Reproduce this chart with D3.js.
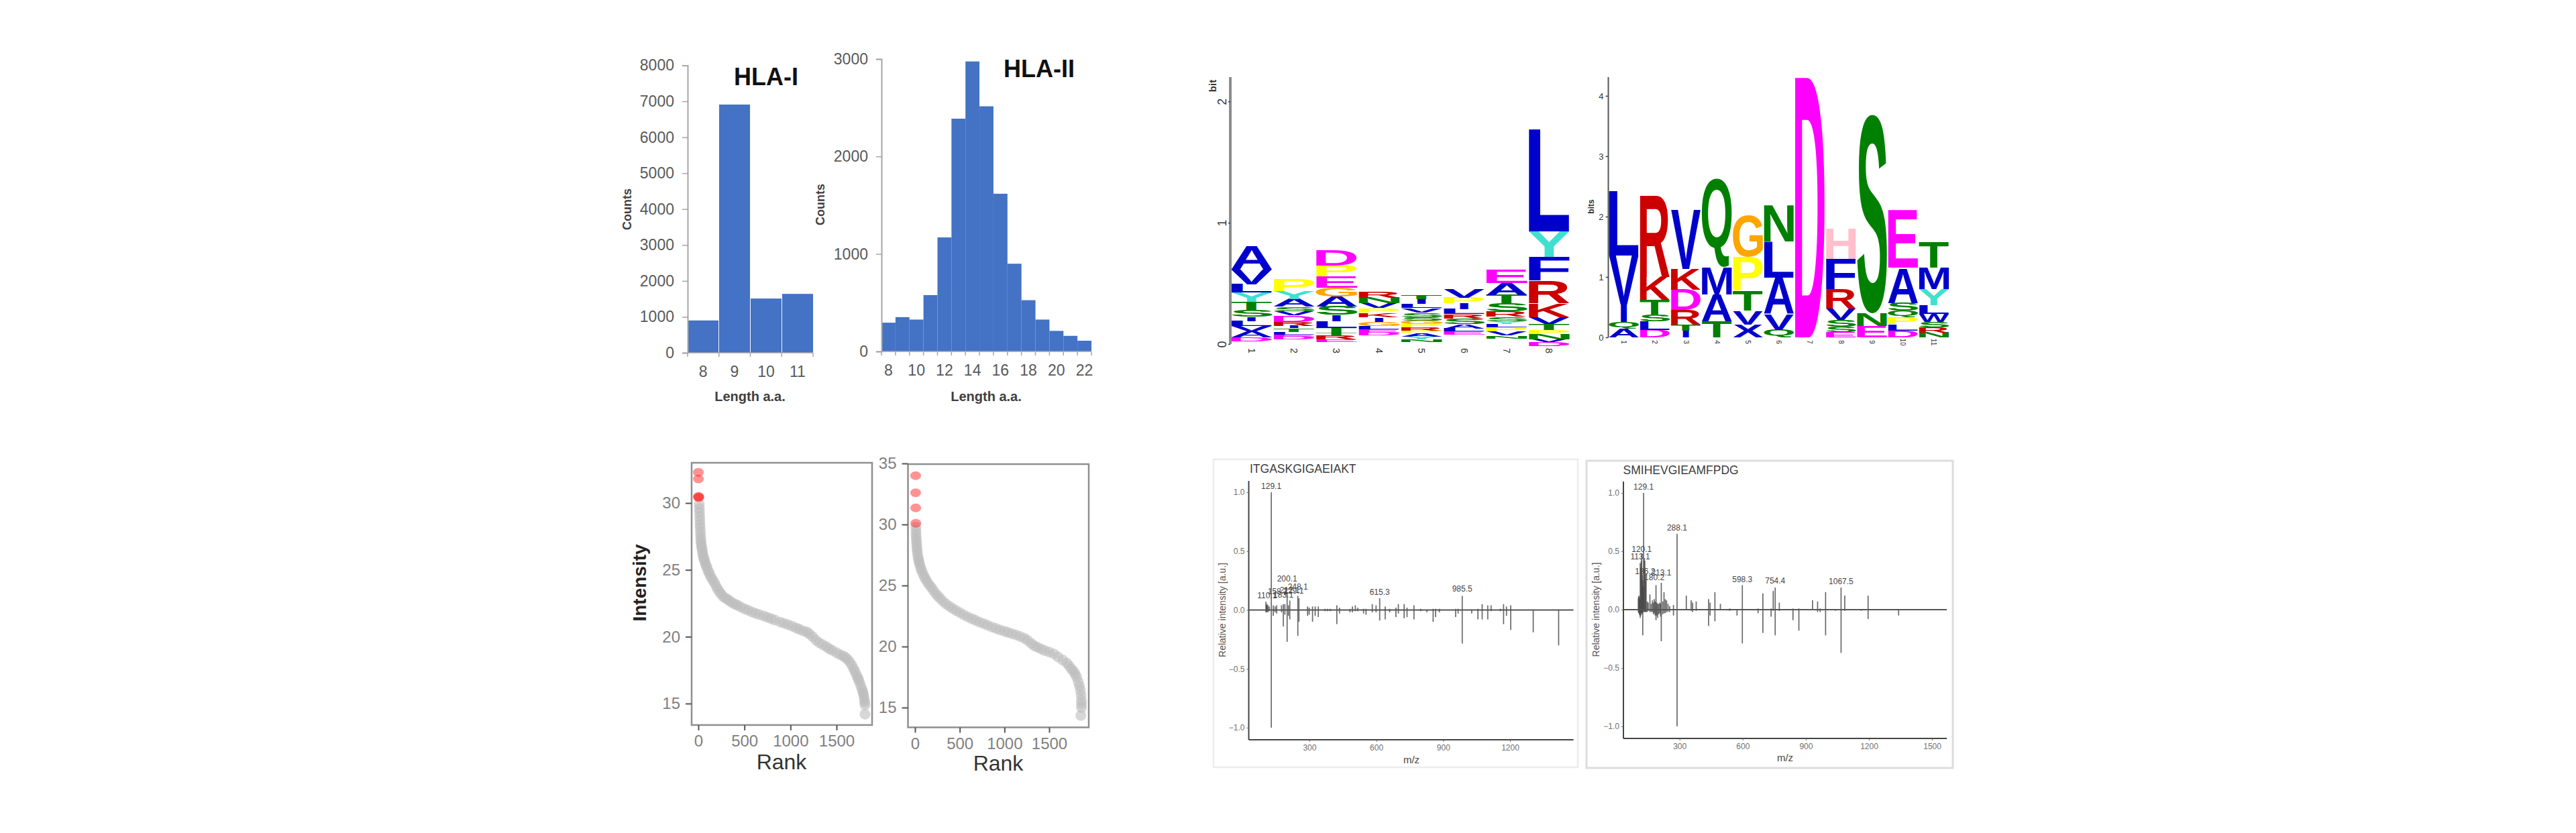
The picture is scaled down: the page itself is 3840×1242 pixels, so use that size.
<!DOCTYPE html>
<html>
<head>
<meta charset="utf-8">
<script src="https://cdnjs.cloudflare.com/ajax/libs/d3/7.8.5/d3.min.js"></script>
<style>
  html, body { margin: 0; padding: 0; background: #fff; }
  svg { display: block; font-family: "Liberation Sans", Arial, sans-serif; }
</style>
</head>
<body>
<svg id="fig" width="3840" height="1242"></svg>
<script>
// ---- Peptide length histograms ----
const hlaOneLengths = [8, 9, 10, 11];
const hlaOneCounts = [900, 6910, 1510, 1640];
const hlaOneTicks = [0, 1000, 2000, 3000, 4000, 5000, 6000, 7000, 8000];
const hlaTwoLengths = [8, 9, 10, 11, 12, 13, 14, 15, 16, 17, 18, 19, 20, 21, 22];
const hlaTwoCounts = [295, 352, 327, 578, 1170, 2388, 2975, 2515, 1618, 900, 526, 327, 211, 160, 110];
const hlaTwoTicks = [0, 1000, 2000, 3000];
const hlaTwoLengthLabels = [8, 10, 12, 14, 16, 18, 20, 22];

// ---- Sequence logos: letters listed top to bottom, heights in bits ----
const logoOneLetters = ["AVLYTSILVAD", "PYASVDRITLED", "DPEGASILTTRE", "RNVPKIGLED", "TILVSSGPRPAYN", "VPILRSALE", "EATSRSYLPVN", "LYFRKVTPNVD"];
const logoOneHeights = [
  [.195, .12, .07, .077, .065, .057, .037, .04, .04, .052, .033],
  [.101, .061, .066, .037, .035, .05, .033, .022, .028, .024, .015, .026],
  [.129, .089, .092, .072, .083, .07, .052, .054, .042, .022, .033, .022],
  [.05, .046, .042, .037, .037, .037, .037, .028, .024, .026],
  [.037, .041, .033, .037, .037, .03, .026, .03, .026, .018, .03, .026, .022],
  [.068, .048, .046, .042, .037, .044, .037, .026, .026],
  [.109, .098, .068, .068, .044, .037, .022, .028, .033, .035, .024],
  [.843, .212, .196, .183, .116, .055, .052, .033, .041, .026, .033]
];
const logoOneFloor = [.022, .037, .015, .07, .015, .077, .046, -.018];
const logoOnePositions = [1, 2, 3, 4, 5, 6, 7, 8];
const logoOneTicks = [0, 1, 2];

const logoTwoLetters = ["LVIQA", "RKTSLD", "VKDRTI", "QMAT", "GPTVX", "NLAVQ", "D", "HFRVSSE", "SNE", "EASQPLD", "TMYLWSRN"];
const logoTwoHeights = [
  [1.07, .81, .29, .11, .14],
  [1.35, .385, .24, .12, .14, .12],
  [.98, .345, .34, .24, .1, .11],
  [1.47, .45, .445, .267],
  [.69, .56, .33, .23, .21],
  [.6, .6, .6, .26, .125],
  [4.31],
  [.5, .5, .32, .185, .11, .09, .09],
  [3.29, .215, .185],
  [.95, .58, .13, .11, .115, .105, .11],
  [.43, .36, .27, .145, .125, .09, .09, .08]
];
const logoTwoPositions = [1, 2, 3, 4, 5, 6, 7, 8, 9, 10, 11];
const logoTwoTicks = [0, 1, 2, 3, 4];

const residueColours = {
  A: "#0000cc", V: "#0000cc", L: "#0000cc", I: "#0000cc", M: "#0000cc", F: "#0000cc", W: "#0000cc", X: "#0000cc",
  T: "#008000", S: "#008000", N: "#008000", Q: "#008000",
  R: "#cc0000", K: "#cc0000", D: "#ff00ff", E: "#ff00ff",
  P: "#ffff00", G: "#ffa500", Y: "#40e0d0", H: "#ffc0cb"
};

// ---- Ranked intensity plots: [rank, log2 intensity] ----
const rankHighlightA = [[0, 32.3], [1, 31.8], [2, 30.5], [3, 30.45], [4, 30.4]];
const rankPointsA = [[10,29.9],[12,29.6],[13,29.3],[15,29.0],[17,28.7],[18,28.4],[20,28.15],[22,27.85],[24,27.6],[26,27.35],[28,27.15],[31,26.95],[35,26.75],[39,26.6],[43,26.4],[48,26.2],[54,26.0],[60,25.85],[67,25.7],[75,25.5],[85,25.3],[93,25.2],[105,24.95],[115,24.8],[127,24.6],[142,24.4],[160,24.2],[178,24.0],[195,23.75],[212,23.55],[230,23.35],[248,23.2],[270,23.0],[295,22.88],[319,22.78],[345,22.65],[372,22.52],[400,22.42],[425,22.36],[460,22.22],[500,22.08],[540,21.98],[580,21.85],[620,21.75],[660,21.66],[709,21.55],[750,21.45],[790,21.35],[830,21.24],[887,21.1],[930,21.0],[975,20.9],[1020,20.78],[1064,20.65],[1100,20.55],[1140,20.42],[1180,20.35],[1206,20.2],[1240,20.0],[1275,19.75],[1312,19.55],[1350,19.4],[1390,19.25],[1420,19.1],[1454,18.98],[1500,18.8],[1540,18.65],[1575,18.55],[1596,18.45],[1620,18.3],[1645,18.1],[1667,17.85],[1685,17.6],[1700,17.4],[1715,17.15],[1730,16.95],[1738,16.8],[1750,16.6],[1762,16.35],[1775,16.1],[1785,15.9],[1791,15.75],[1797,15.55],[1802,15.3],[1806,15.1],[1809,14.9],[1809,14.2]];
const rankHighlightB = [[7, 34], [7, 32.6], [8, 31.36], [9, 30.1]];
const rankPointsB = [[10,29.8],[11,29.5],[12,29.2],[13,28.95],[15,28.7],[18,28.45],[20,28.2],[23,28.0],[26,27.75],[30,27.5],[35,27.25],[42,27.05],[48,26.85],[55,26.65],[65,26.4],[75,26.2],[90,25.95],[105,25.7],[120,25.5],[140,25.25],[160,25.05],[182,24.85],[205,24.6],[230,24.35],[255,24.15],[280,23.95],[310,23.72],[345,23.5],[383,23.3],[420,23.12],[460,22.95],[500,22.78],[545,22.6],[590,22.42],[635,22.28],[675,22.15],[720,22.0],[765,21.88],[810,21.75],[858,21.6],[905,21.48],[950,21.36],[1000,21.25],[1040,21.15],[1085,21.05],[1130,20.95],[1175,20.82],[1223,20.68],[1260,20.5],[1300,20.25],[1335,20.05],[1369,19.95],[1410,19.8],[1450,19.67],[1500,19.55],[1551,19.4],[1600,19.15],[1650,18.9],[1697,18.65],[1725,18.4],[1750,18.15],[1775,17.95],[1790,17.75],[1807,17.5],[1825,17.1],[1840,16.75],[1850,16.4],[1857,16.0],[1860,15.6],[1861,15.3],[1861,15.0],[1854,14.35]];
const rankTicksX = [0, 500, 1000, 1500];
const rankTicksA = [15, 20, 25, 30];
const rankTicksB = [15, 20, 25, 30, 35];

// ---- Mirror spectra: [m/z, experimental, predicted] ----
const spectrumPeptideA = "ITGASKGIGAEIAKT";
const spectrumPeaksA = [[105,.07,-.02],[108,.04,-.02],[110.1,.05,-.01],[114,.04,-.02],[120,.03,-.01],[129.1,1,-1],[138,.04,-.05],[146,.03,-.02],[153,.04,-.03],[175,.04,-.02],[183,.05,-.14],[190,.05,-.04],[200.1,.15,-.27],[206,.04,-.05],[212,.08,-.08],[248.1,.12,-.22],[253,.1,-.1],[292,.03,-.05],[299,.02,-.04],[314,.03,-.1],[326,.03,-.05],[340,.03,-.06],[370,.01,-.01],[381,.01,-.01],[393,.01,-.01],[423,.04,-.12],[435,.02,-.03],[482,.01,-.02],[493,.03,-.02],[506,.04,-.01],[517,.02,-.01],[543,.01,-.03],[554,.01,-.04],[582,.05,-.02],[599,.04,-.02],[615.3,.1,-.09],[640,.03,-.08],[660,.01,-.02],[688,.02,-.06],[699,.05,-.03],[725,.05,-.07],[738,.02,-.06],[769,.04,-.08],[799,.01,-.01],[827,.003,-.02],[855,.01,-.1],[866,.01,-.06],[883,.01,-.02],[956,.01,-.06],[967,.01,-.03],[985.5,.12,-.285],[1028,.005,-.03],[1056,.01,-.08],[1075,.05,-.08],[1100,.04,-.08],[1115,.04,-.01],[1156,.01,-.01],[1171,.05,-.12],[1184,.03,-.05],[1203,.04,-.17],[1304,0,-.19],[1418,0,-.3]];
const spectrumLabelsA = [[129.1,1.05],[200.1,.267],[110.1,.12],[248.1,.197],[158.1,.158],[183.1,.13],[212.1,.17],[229.1,.165],[615.3,.152],[985.5,.177]];
const spectrumPeptideB = "SMIHEVGIEAMFPDG";
const spectrumPeaksB = [[104,.1,-.02],[106,.12,-.03],[109,.11,-.04],[111,.09,-.05],[113.1,.4,-.07],[116,.36,-.05],[118,.42,-.03],[120.1,.48,-.03],[123,.3,-.04],[125,.25,-.22],[127,.2,-.02],[129.1,1,-.01],[132,.44,-.02],[135,.42,-.02],[138,.3,-.02],[141,.25,-.02],[146,.07,-.02],[151,.06,-.01],[159,.13,-.02],[165,.05,-.02],[171,.08,-.02],[176,.06,-.04],[180,.09,-.03],[184,.07,-.05],[188,.21,-.09],[192,.06,-.05],[196,.05,-.07],[201,.05,-.04],[206,.06,-.03],[210,.05,-.06],[213.1,.23,-.27],[220,.07,-.04],[226,.15,-.03],[232,.09,-.03],[238,.08,-.02],[245,.05,-.02],[253,.03,-.02],[271,.04,-.05],[288.1,.65,-1],[332,.12,0],[355,.08,-.01],[362,.06,-.02],[379,.07,-.01],[438,.09,-.14],[445,.06,-.05],[468,.15,-.1],[494,.05,0],[539,.01,-.01],[573,.005,-.05],[598.3,.21,-.29],[673,.01,-.03],[696,.14,-.2],[735,.01,-.06],[745,.16,-.01],[754.4,.19,-.22],[774,.06,-.01],[839,.01,-.09],[867,.01,-.18],[932,.08,0],[956,.07,-.02],[968,.01,-.02],[994,.15,-.22],[1041,0,-.01],[1067.5,.19,-.37],[1085,.12,-.01],[1163,.005,-.01],[1196,.12,-.08],[1341,.005,-.05]];
const spectrumLabelsB = [[129.1,1.05],[120.1,.52],[113.1,.455],[136.2,.325],[213.1,.318],[180.2,.275],[288.1,.70],[598.3,.26],[754.4,.25],[1067.5,.24]];
const spectrumTicksXA = [300, 600, 900, 1200];
const spectrumTicksXB = [300, 600, 900, 1200, 1500];
const spectrumTicksY = [-1, -.5, 0, .5, 1];

const svg = d3.select("#fig");

function addText(parent, str, x, y, size, opts = {}) {
  const t = parent.append("text").text(str)
    .attr("font-size", size)
    .attr("fill", opts.fill || "#595959")
    .attr("font-weight", opts.bold ? "bold" : "normal")
    .attr("text-anchor", opts.anchor || "middle")
    .attr("dominant-baseline", "central");
  if (opts.rotate) t.attr("transform", `translate(${x},${y}) rotate(${opts.rotate})`);
  else t.attr("x", x).attr("y", y);
  return t;
}

// Restyle a d3 axis group: line colour, tick colour, label font
function styleAxis(g, o) {
  g.select(".domain").attr("stroke", o.line).attr("stroke-width", o.lineWidth);
  g.selectAll(".tick line").attr("stroke", o.tick || o.line).attr("stroke-width", o.tickWidth || 1.5);
  g.selectAll(".tick text").attr("font-size", o.size).attr("fill", o.fill).attr("font-family", null);
  g.attr("font-family", null);
}

// ---- Histogram panel ----
function histogram(o) {
  const g = svg.append("g");
  const x = d3.scaleBand().domain(o.lengths).range(o.xRange).paddingInner(o.gap);
  const y = d3.scaleLinear().domain(o.yDomain).range(o.yRange);
  g.selectAll("rect").data(o.counts).join("rect")
    .attr("x", (d, i) => x(o.lengths[i]))
    .attr("width", x.bandwidth())
    .attr("y", d => y(d))
    .attr("height", d => y(0) - y(d))
    .attr("fill", "#4472c4");
  // Tick marks sit on the bin edges
  g.selectAll("line.edge").data(d3.range(o.lengths.length + 1)).join("line")
    .attr("class", "edge")
    .attr("x1", i => o.xRange[0] + i * (o.xRange[1] - o.xRange[0]) / o.lengths.length)
    .attr("x2", i => o.xRange[0] + i * (o.xRange[1] - o.xRange[0]) / o.lengths.length)
    .attr("y1", y(0)).attr("y2", y(0) + 6)
    .attr("stroke", "#a6a6a6").attr("stroke-width", 1.5);
  const ax = g.append("g").attr("transform", `translate(0,${y(0)})`)
    .call(d3.axisBottom(x).tickValues(o.xLabels).tickSize(0).tickPadding(20));
  styleAxis(ax, { line: "#a6a6a6", lineWidth: 1.5, size: 23, fill: "#595959" });
  ax.select(".domain").attr("d", `M${o.xRange[0]},0H${o.xRange[1]}`);
  const ay = g.append("g").attr("transform", `translate(${o.xRange[0]},0)`)
    .call(d3.axisLeft(y).tickValues(o.yTicks).tickSize(8).tickPadding(12).tickFormat(d3.format("d")));
  styleAxis(ay, { line: "#a6a6a6", lineWidth: 2, size: 23, fill: "#595959" });
  addText(g, "Counts", o.countsX, o.countsY, 18, { bold: true, fill: "#404040", rotate: -90 });
  addText(g, "Length a.a.", o.labelX, 591, 20, { bold: true, fill: "#404040" });
  addText(g, o.title, o.titleX, o.titleY, 36, { bold: true, fill: "#111" });
}

histogram({ lengths: hlaOneLengths, counts: hlaOneCounts, xRange: [1025, 1212], gap: .02, yDomain: [0, 8000], yRange: [526, 97.5],
  xLabels: hlaOneLengths, yTicks: hlaOneTicks, countsX: 935, countsY: 312, labelX: 1118, title: "HLA-I", titleX: 1142, titleY: 114 });
histogram({ lengths: hlaTwoLengths, counts: hlaTwoCounts, xRange: [1314, 1627], gap: 0, yDomain: [0, 3000], yRange: [524, 88],
  xLabels: hlaTwoLengthLabels, yTicks: hlaTwoTicks, countsX: 1223, countsY: 305, labelX: 1470, title: "HLA-II", titleX: 1549, titleY: 102 });

// ---- Sequence logo panel ----
// Glyphs are stretched from their measured ink box to fill the cell exactly
const measure = document.createElement("canvas").getContext("2d");
measure.font = 'bold 100px "Liberation Sans"';
function glyph(g, letter, cx, top, bottom, cellWidth) {
  // The narrow I keeps a narrow stem rather than filling its whole cell
  const width = letter === "I" ? cellWidth * .22 : cellWidth;
  const m = measure.measureText(letter);
  const inkW = m.actualBoundingBoxLeft + m.actualBoundingBoxRight;
  const inkH = m.actualBoundingBoxAscent + m.actualBoundingBoxDescent;
  const sx = width / inkW, sy = (bottom - top) / inkH;
  const tx = cx - width / 2 + m.actualBoundingBoxLeft * sx;
  const ty = bottom - m.actualBoundingBoxDescent * sy;
  g.append("text").text(letter)
    .attr("font-size", 100).attr("font-weight", "bold")
    .attr("fill", residueColours[letter])
    .attr("transform", `translate(${tx},${ty}) scale(${sx},${sy})`);
}

function logo(o) {
  const g = svg.append("g");
  const x = d3.scaleBand().domain(o.positions).range(o.xRange).paddingInner(0);
  const y = d3.scaleLinear().domain([0, o.yTop]).range(o.yRange);
  o.letters.forEach((word, c) => {
    let base = o.floor ? o.floor[c] : 0;
    const cx = x(o.positions[c]) + x.bandwidth() / 2;
    // Stack from the least frequent residue upwards
    for (let i = word.length - 1; i >= 0; i--) {
      const next = base + o.heights[c][i];
      glyph(g, word[i], cx, y(next), y(base), x.bandwidth() * o.fill);
      base = next;
    }
  });
  const ay = g.append("g").attr("transform", `translate(${o.xRange[0]},0)`)
    .call(d3.axisLeft(y).tickValues(o.ticks).tickSize(o.tickLen).tickPadding(3).tickFormat(d3.format("d")));
  styleAxis(ay, { line: o.axisColour, lineWidth: o.axisWidth, tick: "#444", size: o.tickSize, fill: "#333" });
  ay.select(".domain").attr("d", `M0,${y(o.yTop)}V${y(0)}`);
  if (o.rotateY) ay.selectAll(".tick text").attr("text-anchor", "middle").attr("dy", 0).attr("dominant-baseline", "central")
    .attr("x", null).attr("transform", `translate(${-o.tickLen - 9},0) rotate(-90)`);
  const ax = g.append("g").attr("transform", `translate(0,${y(0)})`)
    .call(d3.axisBottom(x).tickSize(0).tickPadding(0));
  styleAxis(ax, { line: "none", lineWidth: 0, size: o.xSize, fill: "#333" });
  ax.selectAll(".tick text").attr("dy", 0).attr("y", 0).attr("text-anchor", "middle").attr("dominant-baseline", "central")
    .attr("transform", `translate(0,${o.xLabelDrop}) rotate(90)`);
  addText(g, o.axisTitle, o.titleX, o.titleY, o.titleSize, { bold: true, fill: "#333", rotate: -90 });
}

logo({ letters: logoOneLetters, heights: logoOneHeights, floor: logoOneFloor, positions: logoOnePositions, ticks: logoOneTicks,
  xRange: [1834, 2341], yTop: 2.2, yRange: [513, 115], fill: .97, axisColour: "#8c8c8c", axisWidth: 4, tickLen: 3, tickSize: 18, rotateY: true,
  xSize: 14, xLabelDrop: 10, axisTitle: "bit", titleX: 1807, titleY: 128, titleSize: 15 });
logo({ letters: logoTwoLetters, heights: logoTwoHeights, positions: logoTwoPositions, ticks: logoTwoTicks,
  xRange: [2397.5, 2906], yTop: 4.31, yRange: [503, 115], fill: .97, axisColour: "#555", axisWidth: 2, tickLen: 4, tickSize: 13,
  xSize: 10, xLabelDrop: 7, axisTitle: "bits", titleX: 2372, titleY: 308, titleSize: 12 });

// ---- Ranked intensity panel ----
function rankPlot(o) {
  const g = svg.append("g");
  const x = d3.scaleLinear().domain([0, 1500]).range(o.xRange);
  const y = d3.scaleLinear().domain(o.yDomain).range(o.yRange);
  const dots = (data, fill, opacity, ry) => g.append("g").selectAll("ellipse").data(data).join("ellipse")
    .attr("cx", d => x(d[0])).attr("cy", d => y(d[1]))
    .attr("rx", 8).attr("ry", ry)
    .attr("fill", fill).attr("fill-opacity", opacity);
  dots(o.points, "#bcbcbc", .6, 8);
  dots(o.highlight, "#ff3030", .52, 6.5);
  g.append("rect").attr("x", o.box[0]).attr("y", o.box[1]).attr("width", o.box[2] - o.box[0]).attr("height", o.box[3] - o.box[1])
    .attr("fill", "none").attr("stroke", "#8f8f8f").attr("stroke-width", 2.5);
  const ax = g.append("g").attr("transform", `translate(0,${o.box[3]})`)
    .call(d3.axisBottom(x).tickValues(rankTicksX).tickSize(8).tickPadding(7).tickFormat(d3.format("d")));
  styleAxis(ax, { line: "none", lineWidth: 0, tick: "#555", tickWidth: 2, size: 24, fill: "#808080" });
  const ay = g.append("g").attr("transform", `translate(${o.box[0]},0)`)
    .call(d3.axisLeft(y).tickValues(o.ticks).tickSize(9).tickPadding(8));
  styleAxis(ay, { line: "none", lineWidth: 0, tick: "#555", tickWidth: 2, size: 24, fill: "#808080" });
  addText(g, "Rank", o.rankX, o.rankY, 32, { fill: "#333" });
}

rankPlot({ points: rankPointsA, highlight: rankHighlightA, ticks: rankTicksA, xRange: [1041, 1247], yDomain: [15, 30], yRange: [1049, 750],
  box: [1031, 690, 1300, 1081], rankX: 1165, rankY: 1136 });
rankPlot({ points: rankPointsB, highlight: rankHighlightB, ticks: rankTicksB, xRange: [1364, 1564], yDomain: [15, 35], yRange: [1055, 691],
  box: [1353.5, 692, 1623, 1084.5], rankX: 1488, rankY: 1138 });
addText(svg, "Intensity", 953, 869, 28, { bold: true, fill: "#222", rotate: -90 });

// ---- Mirror spectrum panel ----
function mirror(o) {
  const g = svg.append("g");
  g.append("rect").attr("x", o.frame[0]).attr("y", o.frame[1]).attr("width", o.frame[2] - o.frame[0]).attr("height", o.frame[3] - o.frame[1])
    .attr("fill", "#fff").attr("stroke", o.frameColour).attr("stroke-width", o.frameWidth);
  const x = d3.scaleLinear().domain([300, 1200]).range(o.xRange);
  const y = d3.scaleLinear().domain([-1, 1]).range(o.yRange);
  g.selectAll("line.peak").data(o.peaks).join("line")
    .attr("class", "peak")
    .attr("x1", d => x(d[0])).attr("x2", d => x(d[0]))
    .attr("y1", d => y(d[1])).attr("y2", d => y(d[2]))
    .attr("stroke", "#444").attr("stroke-opacity", .8).attr("stroke-width", 1.7);
  g.append("line").attr("x1", o.left).attr("x2", o.right).attr("y1", y(0)).attr("y2", y(0))
    .attr("stroke", "#555").attr("stroke-width", 2);
  const ax = g.append("g").attr("transform", `translate(0,${o.bottom})`)
    .call(d3.axisBottom(x).tickValues(o.ticksX).tickSize(3).tickPadding(4).tickFormat(d3.format("d")));
  styleAxis(ax, { line: "#444", lineWidth: 2, tick: "#666", tickWidth: 1, size: 12, fill: "#707070" });
  ax.select(".domain").attr("d", `M${o.left},0H${o.right}`);
  const ay = g.append("g").attr("transform", `translate(${o.left},0)`)
    .call(d3.axisLeft(y).tickValues(spectrumTicksY).tickSize(3).tickPadding(3).tickFormat(d3.format(".1f")));
  styleAxis(ay, { line: "#444", lineWidth: 2, tick: "#666", tickWidth: 1, size: 12, fill: "#707070" });
  ay.select(".domain").attr("d", `M0,${o.top}V${o.bottom}`);
  g.selectAll("text.peak-label").data(o.labels).join("text")
    .attr("class", "peak-label")
    .text(d => d[0].toFixed(1))
    .attr("x", d => x(d[0])).attr("y", d => y(d[1]))
    .attr("font-size", 12).attr("fill", "#444").attr("text-anchor", "middle").attr("dominant-baseline", "central");
  addText(g, o.peptide, o.titleX, o.titleY, 17.5, { anchor: "start", fill: "#3d3d3d" });
  addText(g, "m/z", o.mzX, o.mzY, 15, { fill: "#444" });
  addText(g, "Relative intensity [a.u.]", o.yLabelX, y(0), 14, { fill: "#555", rotate: -90 });
}

mirror({ peaks: spectrumPeaksA, labels: spectrumLabelsA, peptide: spectrumPeptideA, ticksX: spectrumTicksXA,
  frame: [1809, 685, 2352, 1144], frameColour: "#ececec", frameWidth: 2.5,
  xRange: [1951.9, 2251], yRange: [1085, 734], left: 1861.5, right: 2345.6, top: 717, bottom: 1103,
  titleX: 1863, titleY: 699, mzX: 2104, mzY: 1132, yLabelX: 1821.5 });
mirror({ peaks: spectrumPeaksB, labels: spectrumLabelsB, peptide: spectrumPeptideB, ticksX: spectrumTicksXB,
  frame: [2365, 687, 2911, 1145], frameColour: "#dddddd", frameWidth: 3,
  xRange: [2503.7, 2786], yRange: [1083, 735], left: 2420, right: 2902, top: 718, bottom: 1101,
  titleX: 2419.6, titleY: 701, mzX: 2661, mzY: 1129, yLabelX: 2379 });
</script>
</body>
</html>
